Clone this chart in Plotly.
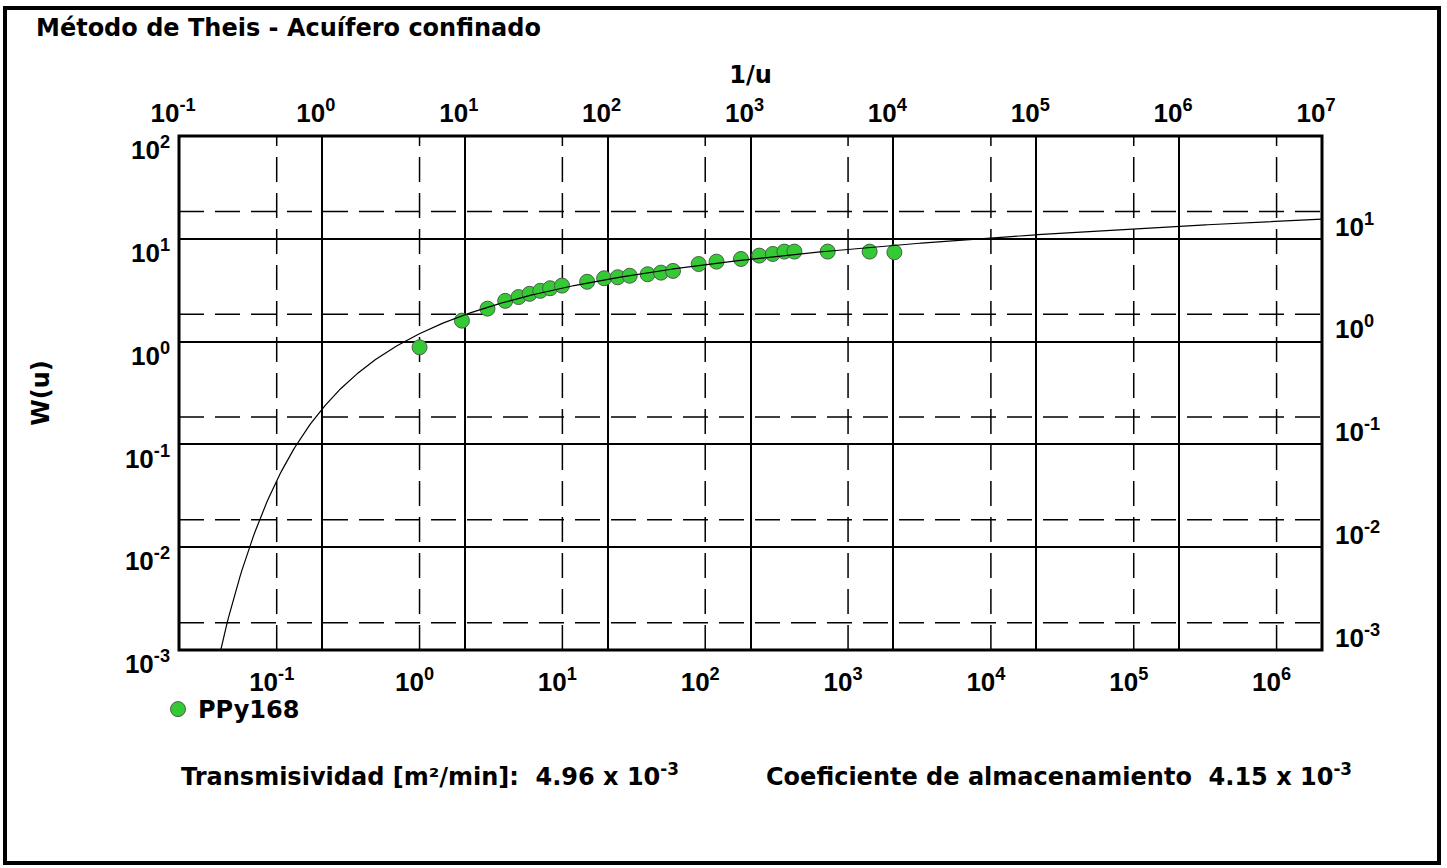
import numpy as np
import plotly.graph_objects as go

# Observed drawdown, well PPy168
time_min = [1.0, 1.98, 2.99, 3.98, 4.93, 5.89, 7.0, 8.2, 9.94, 14.9, 19.6, 24.4, 29.6,
            39.5, 49.0, 59.5, 90.0, 120.0, 178.0, 239.0, 297.0, 358.0, 421.0, 720.0,
            1416.0, 2110.0]
drawdown_m = [0.477, 0.867, 1.134, 1.35, 1.47, 1.58, 1.69, 1.79, 1.90, 2.07, 2.24, 2.29,
              2.37, 2.45, 2.54, 2.64, 3.08, 3.25, 3.45, 3.72, 3.86, 4.07, 4.07, 4.07,
              4.07, 4.01]
well_name = "PPy168"

# Fitted aquifer parameters
transmissivity = "4.96 x 10<sup>-3</sup>"
storativity = "4.15 x 10<sup>-3</sup>"

# Tick decades for each axis
time_exponents = [-1, 0, 1, 2, 3, 4, 5, 6]
inv_u_exponents = [-1, 0, 1, 2, 3, 4, 5, 6, 7]
w_exponents = [-3, -2, -1, 0, 1, 2]
s_exponents = [-3, -2, -1, 0, 1]

# Axis ranges (log10 units)
time_range = [-1.684, 6.318]
drawdown_range = [-3.266, 1.734]
inv_u_range = [-1, 7]
w_range = [-3, 2]


def well_function(u):
    """Theis well function W(u) = E1(u) (Abramowitz & Stegun 5.1.53 / 5.1.56)."""
    u = np.asarray(u, dtype=float)
    w = np.empty_like(u)
    lo = u <= 1.0
    x = u[lo]
    w[lo] = (-np.log(x) - 0.57721566 + 0.99999193 * x - 0.24991055 * x**2
             + 0.05519968 * x**3 - 0.00976004 * x**4 + 0.00107857 * x**5)
    x = u[~lo]
    w[~lo] = (np.exp(-x) / x) * (x**2 + 2.334733 * x + 0.250621) / (x**2 + 3.330657 * x + 1.681534)
    return w


inv_u = np.logspace(inv_u_range[0], inv_u_range[1], 600)
w_u = well_function(1.0 / inv_u)


def labels(exps):
    return [10.0**e for e in exps], [f"10<sup>{e}</sup>" for e in exps]


# Pixel layout of the plotting area
W, H = 1447, 868
L, R, T, B = 179, 1322, 136, 650
pw, ph = R - L, B - T

tick_font = dict(family="Liberation Sans, Arial, sans-serif", size=26, color="black", weight="bold")
text_font = dict(family="DejaVu Sans, sans-serif", size=24, color="black", weight="bold")

tv, tt = labels(time_exponents)
iv, it = labels(inv_u_exponents)
wv, wt = labels(w_exponents)
sv, st = labels(s_exponents)

fig = go.Figure()

# Dashed grid of the time / drawdown scales
dash_style = dict(color="black", width=1.5, dash="25px,11px")
s_lo, s_hi = 10**drawdown_range[0], 10**drawdown_range[1]
t_lo, t_hi = 10**time_range[0], 10**time_range[1]
gx, gy = [], []
for v in tv:
    gx += [v, v, None]
    gy += [s_lo, s_hi, None]
for v in sv:
    gx += [t_lo, t_hi, None]
    gy += [v, v, None]
fig.add_trace(go.Scatter(x=gx, y=gy, xaxis="x", yaxis="y", mode="lines",
                         line=dash_style, showlegend=False, hoverinfo="skip"))

# Field data on the time - drawdown axes
fig.add_trace(go.Scatter(
    x=time_min, y=drawdown_m, xaxis="x", yaxis="y", mode="markers", name=well_name,
    marker=dict(size=15, color="#36c936", line=dict(color="#4a5f4a", width=1))))

# Theis type curve on the 1/u - W(u) axes
fig.add_trace(go.Scatter(
    x=inv_u, y=w_u, xaxis="x2", yaxis="y2", mode="lines",
    line=dict(color="black", width=1.2), showlegend=False, hoverinfo="skip"))

common = dict(showline=False, zeroline=False, ticks="", tickfont=tick_font)

fig.update_layout(
    width=W, height=H,
    margin=dict(l=L, r=W - R, t=T, b=H - B, pad=0),
    paper_bgcolor="white", plot_bgcolor="white",
    showlegend=True,
    legend=dict(x=(158 - L) / pw, y=(B - 687) / ph, xanchor="left", yanchor="top",
                font=text_font, itemwidth=30, bgcolor="rgba(0,0,0,0)"),
    xaxis=dict(type="log", range=time_range, tickvals=tv, ticktext=tt, showgrid=False,
               ticklabelstandoff=14, ticklabelshift=-5, **common),
    yaxis=dict(type="log", range=drawdown_range, side="right", tickvals=sv, ticktext=st,
               showgrid=False, ticklabelstandoff=12, ticklabelshift=15, **common),
    xaxis2=dict(type="log", range=inv_u_range, overlaying="x", side="top", anchor="y",
                tickvals=iv, ticktext=it, showgrid=True, gridcolor="black", gridwidth=1.5,
                ticklabelstandoff=8, ticklabelshift=-6,
                title=dict(text="1/u", font=text_font, standoff=4), **common),
    yaxis2=dict(type="log", range=w_range, overlaying="y", side="left", anchor="x",
                tickvals=wv, ticktext=wt, showgrid=True, gridcolor="black", gridwidth=1.5,
                ticklabelstandoff=8, ticklabelshift=14,
                title=dict(text="W(u)", font=text_font, standoff=68), **common),
)

# Plot frame and page frame
fig.add_shape(type="rect", xref="paper", yref="paper", x0=0, x1=1, y0=0, y1=1,
              line=dict(color="black", width=3), layer="above")
fig.add_shape(type="rect", xref="paper", yref="paper",
              x0=(5 - L) / pw, x1=(1439 - L) / pw, y0=(B - 863) / ph, y1=(B - 8) / ph,
              line=dict(color="black", width=4), layer="above")

fig.add_annotation(text="Método de Theis - Acuífero confinado", xref="paper", yref="paper",
                   x=(34 - L) / pw, y=(B - 28) / ph, xanchor="left", yanchor="middle",
                   showarrow=False, font=text_font)
fig.add_annotation(text=f"Transmisividad [m²/min]:  {transmissivity}", xref="paper", yref="paper",
                   x=(179 - L) / pw, y=(B - 775) / ph, xanchor="left", yanchor="middle",
                   showarrow=False, font=text_font)
fig.add_annotation(text=f"Coeficiente de almacenamiento  {storativity}", xref="paper", yref="paper",
                   x=(764 - L) / pw, y=(B - 775) / ph, xanchor="left", yanchor="middle",
                   showarrow=False, font=text_font)

fig.write_html("out.html")
